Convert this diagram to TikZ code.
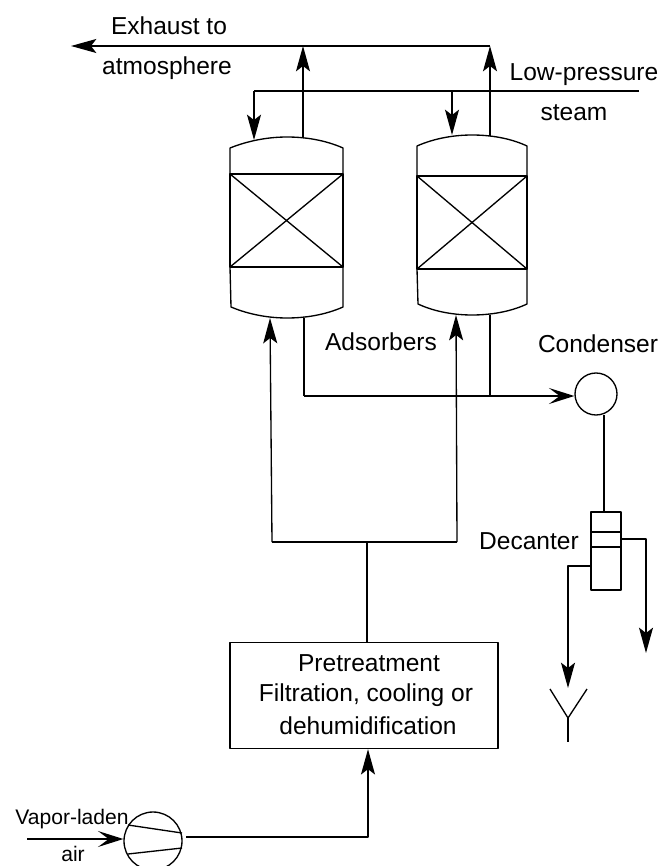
\documentclass[tikz,border=0pt]{standalone}
\usepackage{fontspec}
\setmainfont{Liberation Sans}
\usetikzlibrary{arrows.meta}
\usetikzlibrary{positioning}
\tikzset{
  pipe/.style={line width=1pt, line join=round},
  flow/.style={pipe, -{Stealth[length=19pt, width=10.5pt, inset=4pt]}},
  openflow/.style={pipe, -{Stealth[length=19pt, width=12pt, inset=8pt]}},
  vessel/.style={line width=1pt, line join=round},
  tag/.style={font=\fontsize{18.4}{20}\selectfont, inner sep=0pt},
}

\begin{document}
\begin{tikzpicture}[x=0.75pt, y=-0.75pt]
    \clip (0,0) rectangle (659,866);
    % adsorbers
    \begin{scope}
    \draw[vessel] (230,267) -- (230,148) .. controls (250,140) and (270,137) .. (287,137)
        .. controls (305,137) and (325,140) .. (343,148) -- (343,307)
        .. controls (325,315) and (305,318) .. (287,318)
        .. controls (270,318) and (250,315) .. (231,307) -- (230,267);
    \draw[vessel] (230,174) rectangle (343,267);
    \draw[vessel] (230,174) -- (343,267);
    \draw[vessel] (343,174) -- (230,267);
    \draw[vessel] (417,269) -- (417,146) .. controls (435,138) and (455,135) .. (472,135)
        .. controls (490,135) and (510,138) .. (527,146) -- (527,304)
        .. controls (510,312) and (490,315) .. (472,315)
        .. controls (455,315) and (435,312) .. (418,304) -- (417,269);
    \draw[vessel] (417,176) rectangle (527,269);
    \draw[vessel] (417,176) -- (527,269);
    \draw[vessel] (527,176) -- (417,269);
    \end{scope}
    \coordinate (outA) at (303,138);
    \coordinate (outB) at (490,136);
    \coordinate (jctA) at (303,46);
    \coordinate (jctB) at (490,46);
    \coordinate (vent) at (71,46);
    \coordinate (steamIn) at (639,91);
    \coordinate (steamA) at (254,91);
    \coordinate (steamB) at (452,91);
    \coordinate (steamTipA) at (254,140);
    \coordinate (steamTipB) at (452,135);
    \draw[flow] (jctB) -- (vent);
    \draw[flow] (outA) -- (jctA);
    \draw[flow] (outB) -- (jctB);
    \draw[pipe] (steamIn) -- (steamA);
    \draw[flow] (steamA) -- (steamTipA);
    \draw[flow] (steamB) -- (steamTipB);

    \node[draw, pipe, minimum width=201pt, minimum height=79.5pt, inner sep=0pt] (pre) at (364,695.5) {};
    \node[tag] (pretxt) at (369,663) {Pretreatment};
    \node[tag] (filtxt) at (366,695) {Filtration, cooling or};
    \node[tag] (dehtxt) at (368,726) {dehumidification};
    \coordinate (split) at (367,542);
    \coordinate (feedA) at (272,542);
    \coordinate (feedB) at (457,542);
    \coordinate (inA) at (270,318);
    \coordinate (inB) at (456,315);
    \draw[pipe] (pre.north -| split) -- (split);
    \draw[flow] (feedB) -- (inB);
    \draw[flow] (feedA) -- (inA);
    \draw[pipe] (feedA) -- (feedB);

    % condenser and decanter
    \node[draw, pipe, circle, minimum size=31.5pt, inner sep=0pt] (cond) at (596,394) {};
    \coordinate (botA) at (304,318);
    \coordinate (botB) at (490,315);
    \coordinate (botJ) at (304,396);
    \coordinate (botK) at (490,396);
    \draw[pipe] (botA) -- (botJ);
    \draw[pipe] (botB) -- (botK);
    \draw[openflow] (botJ) -- (cond.west |- botJ);
    \node[draw, pipe, minimum width=22.5pt, minimum height=58.5pt, inner sep=0pt] (dec) at (606,551) {};
    \draw[pipe] (dec.west |- 0,532) -- (dec.east |- 0,532);
    \draw[pipe] (dec.west |- 0,547) -- (dec.east |- 0,547);
    \draw[pipe] (604,415) -- (604,512);
    \coordinate (lightOut) at (646,539);
    \coordinate (lightTip) at (646,653);
    \coordinate (heavyOut) at (568,566);
    \coordinate (heavyTip) at (568,688);
    \draw[flow] (dec.east |- lightOut) -- (lightOut) -- (lightTip);
    \draw[flow] (dec.west |- heavyOut) -- (heavyOut) -- (heavyTip);
    \coordinate (forkL) at (550,689);
    \coordinate (forkR) at (587,689);
    \coordinate (forkJ) at (568,718);
    \coordinate (forkE) at (568,742);
    \draw[pipe] (forkL) -- (forkJ) -- (forkR);
    \draw[pipe] (forkJ) -- (forkE);

    % blower
    \node[draw, pipe, circle, minimum size=43.5pt, inner sep=0pt] (blow) at (153,841) {};
    \draw[pipe] (128,825) -- (182,833);
    \draw[pipe] (128,854) -- (182,848);
    \coordinate (airIn) at (27,839);
    \coordinate (blowOut) at (186,837);
    \coordinate (bend) at (368,837);
    \draw[openflow] (airIn) -- (blow.west |- airIn);
    \draw[flow] (blowOut) -- (bend) -- (pre.south -| bend);

    \node[tag] (exh) at (169,26) {Exhaust to};
    \node[tag] (atm) at (167,68) {atmosphere};
    \node[tag] (low) at (584,75) {Low-pressure};
    \node[tag] (stm) at (574,113) {steam};
    \node[tag] (ads) at (381,342) {Adsorbers};
    \node[tag] (con) at (598,344) {Condenser};
    \node[tag] (dct) at (529,541) {Decanter};
    \node[tag, font=\fontsize{15.8}{18}\selectfont] (vap) at (72,819) {Vapor-laden};
    \node[tag, font=\fontsize{15.8}{18}\selectfont] (air) at (73,854) {air};
\end{tikzpicture}
\end{document}
